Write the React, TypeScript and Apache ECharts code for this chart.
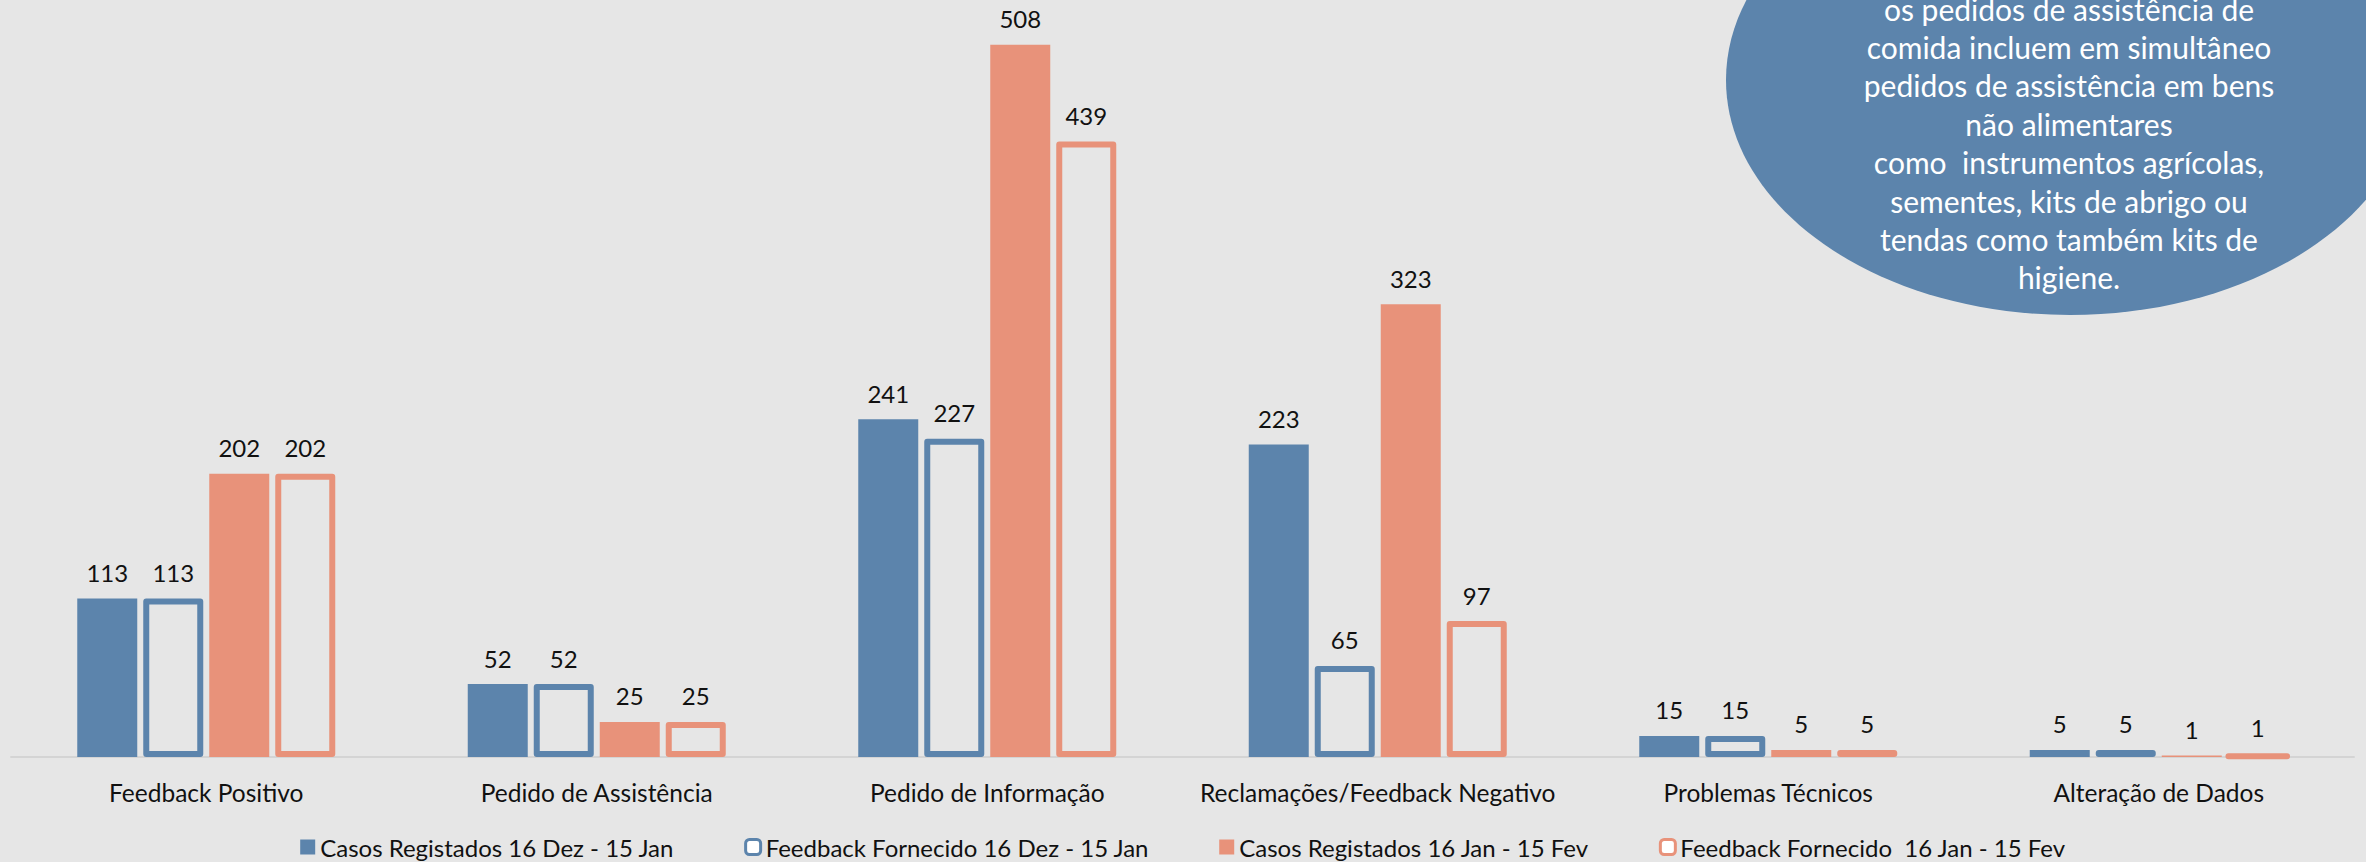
import React, { useEffect, useRef } from "react";
import * as echarts from "echarts";

const categories = [
  "Feedback Positivo",
  "Pedido de Assistência",
  "Pedido de Informação",
  "Reclamações/Feedback Negativo",
  "Problemas Técnicos",
  "Alteração de Dados",
];

const casosDezJan = [113, 52, 241, 223, 15, 5];
const feedbackDezJan = [113, 52, 227, 65, 15, 5];
const casosJanFev = [202, 25, 508, 323, 5, 1];
const feedbackJanFev = [202, 25, 439, 97, 5, 1];

const seriesNames = [
  "Casos Registados 16 Dez - 15 Jan",
  "Feedback Fornecido 16 Dez - 15 Jan",
  "Casos Registados 16 Jan - 15 Fev",
  "Feedback Fornecido  16 Jan - 15 Fev",
];

const noteLines = [
  "os pedidos de assistência de",
  "comida incluem em simultâneo",
  "pedidos de assistência em bens",
  "não alimentares",
  "como  instrumentos agrícolas,",
  "sementes, kits de abrigo ou",
  "tendas como também kits de",
  "higiene.",
];

const BLUE = "#5C84AC";
const ORANGE = "#E8927A";
const BG = "#E6E6E6";
const FONT = "Lato, 'Noto Sans', sans-serif";

export default function App() {
  const ref = useRef<HTMLDivElement>(null);

  useEffect(() => {
    document.body.style.margin = "0";
    document.body.style.background = BG;
    if (!ref.current) return;
    const chart = echarts.init(ref.current, null, { renderer: "svg" });

    const label = {
      show: true,
      position: "top" as const,
      distance: 14,
      color: "#111",
      fontSize: 24,
      fontFamily: FONT,
    };

    const filled = (name: string, data: number[], color: string) => ({
      name,
      type: "bar" as const,
      data,
      barWidth: 60,
      barGap: "10%",
      itemStyle: { color },
      label,
    });

    const outlined = (name: string, data: number[], color: string) => ({
      name,
      type: "bar" as const,
      data,
      barWidth: 60,
      barGap: "10%",
      itemStyle: {
        color: "transparent",
        borderColor: color,
        borderWidth: 6,
        borderJoin: "round",
      },
      label,
    });

    const noteGraphics: any[] = [
      {
        type: "ellipse",
        shape: { cx: 2070, cy: 80, rx: 344, ry: 235 },
        style: { fill: BLUE },
        z: 10,
      },
      ...noteLines.map((t, i) => ({
        type: "text",
        x: 2069,
        y: 8.5 + i * 38.4,
        z: 11,
        style: {
          text: t,
          fill: "#FFFFFF",
          font: `30px ${FONT}`,
          textAlign: "center",
          textVerticalAlign: "middle",
        },
      })),
    ];

    chart.setOption({
      animation: false,
      backgroundColor: BG,
      textStyle: { fontFamily: FONT },
      grid: { left: 11, right: 12, top: 0, bottom: 105, containLabel: false },
      xAxis: {
        type: "category",
        data: categories,
        axisLine: { show: true, lineStyle: { color: "#D4D4D4", width: 2 } },
        axisTick: { show: false },
        axisLabel: {
          color: "#111",
          fontSize: 24.5,
          fontFamily: FONT,
          margin: 23,
          interval: 0,
        },
      },
      yAxis: {
        type: "value",
        min: 0,
        max: 540,
        show: false,
        splitLine: { show: false },
      },
      legend: {
        left: "center",
        top: 835,
        padding: 0,
        itemWidth: 15,
        itemHeight: 15,
        itemGap: 70,
        textStyle: { color: "#111", fontSize: 24, fontFamily: FONT },
        data: [
          { name: seriesNames[0], icon: "rect", itemStyle: { color: BLUE } },
          {
            name: seriesNames[1],
            icon: "roundRect",
            itemStyle: { color: "#FFFFFF", borderColor: BLUE, borderWidth: 3 },
          },
          { name: seriesNames[2], icon: "rect", itemStyle: { color: ORANGE } },
          {
            name: seriesNames[3],
            icon: "roundRect",
            itemStyle: { color: "#FFFFFF", borderColor: ORANGE, borderWidth: 3 },
          },
        ],
      },
      series: [
        filled(seriesNames[0], casosDezJan, BLUE),
        outlined(seriesNames[1], feedbackDezJan, BLUE),
        filled(seriesNames[2], casosJanFev, ORANGE),
        outlined(seriesNames[3], feedbackJanFev, ORANGE),
      ],
      graphic: noteGraphics,
    });

    return () => chart.dispose();
  }, []);

  return <div ref={ref} style={{ width: 2366, height: 862 }} />;
}
